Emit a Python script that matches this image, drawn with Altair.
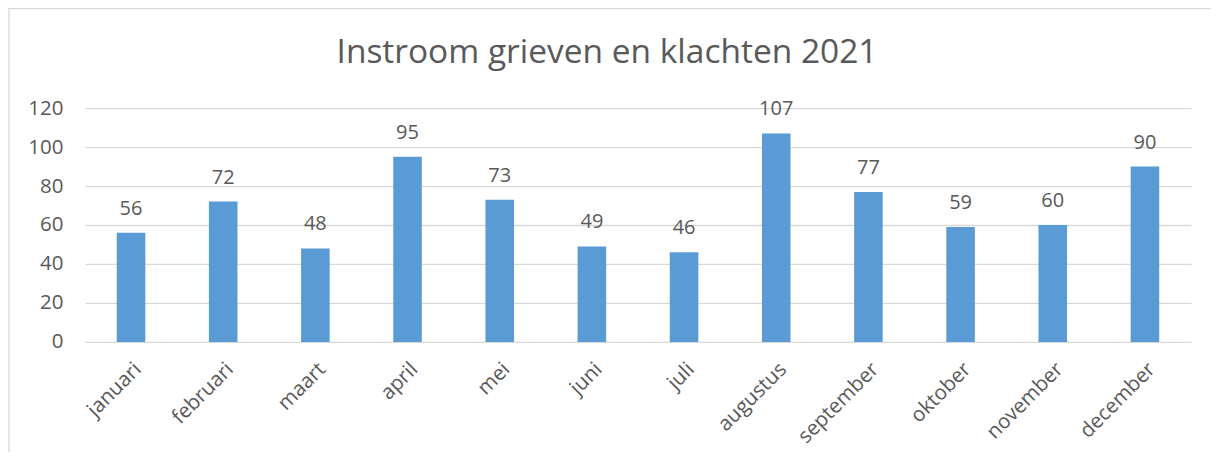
import altair as alt
import pandas as pd

months = ["januari", "februari", "maart", "april", "mei", "juni", "juli",
          "augustus", "september", "oktober", "november", "december"]
values = [56, 72, 48, 95, 73, 49, 46, 107, 77, 59, 60, 90]
y_ticks = [0, 20, 40, 60, 80, 100, 120]
title_text = "Instroom grieven en klachten 2021"

df = pd.DataFrame({"maand": months, "aantal": values})

FONT = "Open Sans"
GREY = "#595959"

x_enc = alt.X("maand:N", sort=months, title=None,
              scale=alt.Scale(paddingInner=0.69, paddingOuter=0.345),
              axis=alt.Axis(labelAngle=-45, labelFontSize=20.5, labelColor=GREY,
                            labelFont=FONT, labelPadding=17, ticks=False,
                            domain=False, grid=False, labelOverlap=False))
y_enc = alt.Y("aantal:Q", title=None,
              scale=alt.Scale(domain=[0, 120], nice=False),
              axis=alt.Axis(values=y_ticks, labelFontSize=20.5, labelColor=GREY,
                            labelFont=FONT, labelPadding=22, ticks=False,
                            labelOverlap=False, domain=False,
                            gridColor="#d9d9d9", gridWidth=1.3))

bars = alt.Chart(df).mark_bar(color="#5B9BD5").encode(x=x_enc, y=y_enc)

labels = alt.Chart(df).mark_text(
    baseline="alphabetic", dy=-18, fontSize=20, color=GREY, font=FONT
).encode(x=x_enc, y=y_enc, text="aantal:Q")

deco = pd.DataFrame({"t": [title_text]})
border = alt.Chart(deco).mark_rect(
    fill=None, stroke="#d9d9d9", strokeWidth=1.3, clip=False
).encode(x=alt.value(-76), x2=alt.value(1133), y=alt.value(-99.5), y2=alt.value(400))

title = alt.Chart(deco).mark_text(
    fontSize=33.5, font=FONT, color=GREY, align="center", baseline="alphabetic"
).encode(x=alt.value(522.5), y=alt.value(-45), text="t:N")

chart = alt.layer(border, bars, labels, title).properties(
    width=1107, height=234,
    padding={"left": 77, "top": 100, "right": 20, "bottom": 110},
    autosize=alt.AutoSizeParams(type="none"),
).configure_view(stroke=None)

chart.save("out.html", embed_options={"renderer": "svg", "actions": False})
